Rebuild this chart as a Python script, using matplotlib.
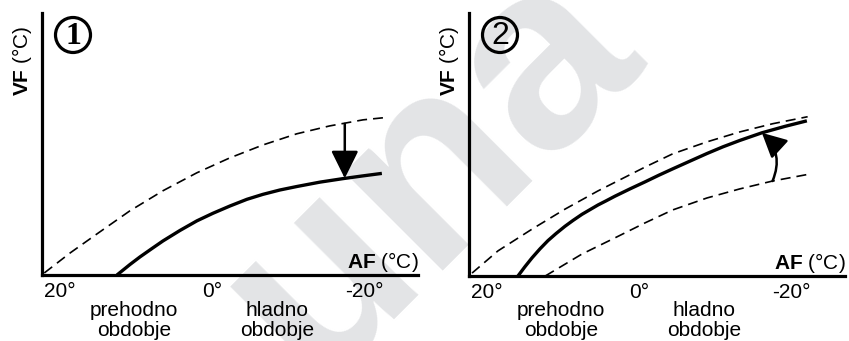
import matplotlib
matplotlib.use("Agg")
import matplotlib.pyplot as plt
from matplotlib.patches import FancyArrowPatch, Circle
from matplotlib.transforms import IdentityTransform, blended_transform_factory

plt.rcParams["font.family"] = ["Liberation Sans", "DejaVu Sans"]
plt.rcParams["mathtext.fontset"] = "custom"
plt.rcParams["mathtext.rm"] = "Liberation Sans"
plt.rcParams["mathtext.bf"] = "Liberation Sans:bold"

# Outdoor temperature axis (AF) and period labels
tick_values = [20, 0, -20]
tick_labels = ["20°", "0°", "-20°"]
period_af = [10.2, -8.5]
period_labels = ["prehodno\nobdobje", "hladno\nobdobje"]

# Panel 1: heating curve lowered (parallel shift)
p1_old_af = [22.0, 18.6, 15.1, 10.8, 6.4, 2.0, -2.3, -6.7, -11.1, -15.4, -19.8, -22.4]
p1_old_vf = [0.7, 7.6, 14.1, 22.0, 29.0, 35.1, 40.2, 44.7, 48.5, 51.2, 53.3, 54.0]
p1_new_af = [12.47, 10.77, 9.46, 7.88, 6.44, 4.21, 1.99, -0.11, -2.34, -4.57,
             -6.66, -8.89, -11.12, -14.14, -17.15, -19.64, -22.26]
p1_new_vf = [0.0, 3.6, 6.2, 9.1, 11.7, 15.3, 18.6, 21.2, 23.7, 26.0,
             27.7, 29.2, 30.4, 31.9, 33.1, 34.0, 34.9]
p1_arrow_af = -17.4
p1_arrow_vf = [51.9, 33.2]

# Panel 2: heating curve made steeper
p2_upper_af = [21.9, 18.5, 14.0, 9.7, 5.4, -0.8, -4.4, -8.9, -13.2, -17.5, -22.1]
p2_upper_vf = [1.0, 8.6, 16.1, 22.9, 29.1, 37.3, 41.8, 45.9, 49.3, 52.1, 54.5]
p2_new_af = [15.88, 14.96, 14.04, 12.99, 11.95, 10.90, 9.72, 8.67, 7.49, 6.44,
             5.39, 4.34, 3.17, 1.20, -0.77, -2.60, -4.44, -6.66, -8.89, -10.99,
             -13.22, -16.10, -19.12, -22.00]
p2_new_vf = [0.0, 3.2, 6.2, 9.3, 12.1, 14.5, 17.0, 19.0, 21.1, 22.7,
             24.3, 25.7, 27.3, 29.8, 32.2, 34.5, 36.7, 39.3, 41.9, 44.2,
             46.4, 49.0, 51.2, 53.1]
p2_lower_af = [12.3, 7.5, 3.2, -0.8, -4.4, -8.9, -13.2, -17.5, -22.4]
p2_lower_vf = [0.0, 7.5, 13.0, 18.2, 22.6, 26.7, 29.8, 32.5, 34.9]
p2_arrow_af = [-17.5, -16.1]
p2_arrow_vf = [32.5, 49.0]

W, H = 849, 341
fig = plt.figure(figsize=(W / 100, H / 100), dpi=100)

# faint diagonal watermark behind both panels
fig.text(430 / W, 0.50, "una", rotation=45, ha="center", va="center",
         fontsize=190, fontweight="bold", color="#e3e4e6", zorder=-5)

dash = (0, (6, 3.6))
ax1 = fig.add_axes([42 / W, 66 / H, 376 / W, 262 / H])
ax2 = fig.add_axes([469 / W, 65 / H, 376 / W, 263 / H])

for ax, num, numfont in ((ax1, "1", "Liberation Serif"), (ax2, "2", "Liberation Sans")):
    ax.set_facecolor("none")
    ax.set_xlim(22.3, -27.0)
    ax.set_ylim(0, 90)
    for s in ("top", "right"):
        ax.spines[s].set_visible(False)
    for s in ("left", "bottom"):
        ax.spines[s].set_linewidth(2.3)
        ax.spines[s].set_capstyle("projecting")
    ax.set_yticks([])
    ax.set_xticks(tick_values, tick_labels)
    ax.tick_params(axis="x", length=0, pad=5.0, labelsize=15)

    ax.annotate(r"$\mathbf{VF}$ (°C)", xy=(0, 1), xycoords="axes fraction",
                xytext=(-20, -13), textcoords="offset pixels", rotation=90,
                ha="center", va="top", fontsize=15)
    ax.annotate(r"$\mathbf{AF}$ (°C)", xy=(1, 0), xycoords="axes fraction",
                xytext=(1, 7), textcoords="offset pixels",
                ha="right", va="baseline", fontsize=15, annotation_clip=False)

    tr = blended_transform_factory(ax.transData, IdentityTransform())
    for x, lab in zip(period_af, period_labels):
        ax.text(x, H - 301, lab, transform=tr, ha="center", va="top",
                fontsize=15, linespacing=1.06)

    # circled panel number
    cx = ax.transAxes.transform((0, 1))[0] + 31
    cy = H - 35
    fig.add_artist(Circle((cx, cy), 17.5, transform=IdentityTransform(),
                          fill=False, ec="black", lw=2.3))
    fig.text(cx, cy - 1, num, transform=IdentityTransform(), ha="center",
             va="center", fontsize=23, family=numfont,
             fontweight="bold" if num == "1" else "normal")

# Panel 1
ax1.plot(p1_old_af, p1_old_vf, color="black", lw=1.2, ls=dash)
ax1.plot(p1_new_af, p1_new_vf, color="black", lw=2.4, solid_capstyle="butt",
         solid_joinstyle="round")
ax1.add_patch(FancyArrowPatch((p1_arrow_af, p1_arrow_vf[0]), (p1_arrow_af, p1_arrow_vf[1]),
                              arrowstyle="-|>,head_length=0.85,head_width=0.42",
                              mutation_scale=20, lw=1.8, color="black",
                              shrinkA=0, shrinkB=0))

# Panel 2
ax2.plot(p2_upper_af, p2_upper_vf, color="black", lw=1.2, ls=dash)
ax2.plot(p2_lower_af, p2_lower_vf, color="black", lw=1.2, ls=dash)
ax2.plot(p2_new_af, p2_new_vf, color="black", lw=2.4, solid_capstyle="butt",
         solid_joinstyle="round")
ax2.add_patch(FancyArrowPatch((p2_arrow_af[0], p2_arrow_vf[0]), (p2_arrow_af[1], p2_arrow_vf[1]),
                              connectionstyle="arc3,rad=0.35",
                              arrowstyle="-|>,head_length=0.75,head_width=0.38",
                              mutation_scale=20, lw=1.8, color="black",
                              shrinkA=0, shrinkB=0))

fig.savefig("out.png", dpi=100)
